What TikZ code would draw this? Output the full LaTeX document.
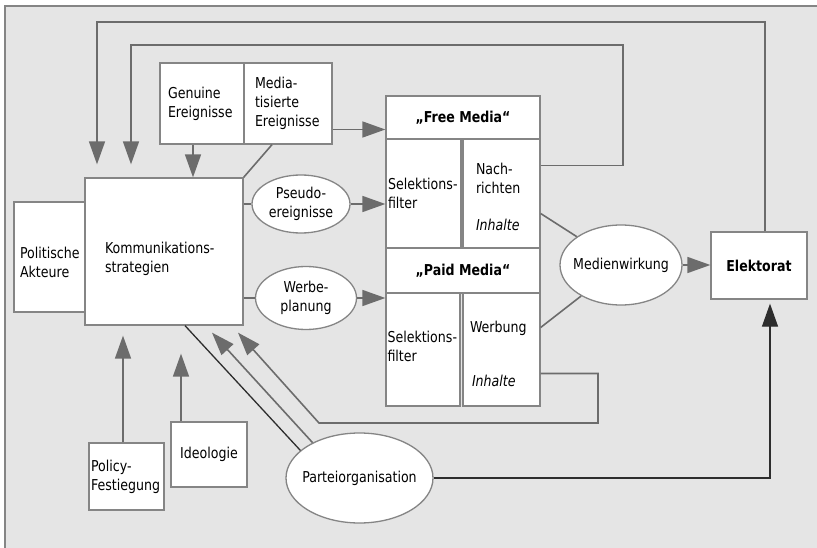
\documentclass[tikz,border=0pt]{standalone}
\usepackage{fontspec}
\setmainfont{DejaVu Sans}[FakeStretch=0.84]
\usepackage{tikz}
\usetikzlibrary{arrows.meta,shapes.geometric,positioning}
\definecolor{bggray}{RGB}{229,229,229}
\definecolor{boxgray}{RGB}{133,133,133}
\definecolor{linegray}{RGB}{108,108,108}
\definecolor{darkline}{RGB}{45,45,45}

\begin{document}
\begin{tikzpicture}[x=1pt,y=-1pt,
    box/.style={draw=boxgray, fill=white, line width=1.3pt, inner sep=0pt,
      font=\fontsize{15}{19}\selectfont},
    oval/.style={ellipse, draw=boxgray, fill=white, line width=1.3pt, inner sep=0pt,
      align=center, font=\fontsize{15}{19}\selectfont},
    ln/.style={draw=linegray, line width=1.6pt},
    arr/.style={ln, -{Triangle[length=23pt,width=16pt]}},
    dark/.style={draw=darkline, line width=1.3pt}
  ]
    % background
    \useasboundingbox (0,0) rectangle (817,548);
    \fill[white] (0,0) rectangle (817,548);
    \fill[bggray] (5,6) rectangle (817,548);
    \draw[boxgray, line width=1.3pt] (5,548) -- (5,6) -- (817,6);

    % actors and strategies
    \node[box, minimum width=72, minimum height=110, text width=60, align=left, text depth=8pt]
      (akteure) at (50,257) {Politische\\Akteure};
    \node[box, minimum width=158, minimum height=147, text width=118, align=left, text depth=7.5pt]
      (komm) at (164,251.5) {Kommunikations-\\strategien};

    % events
    \node[box, minimum width=84, minimum height=81, text width=68, align=left, text depth=21pt]
      (genuine) at (202,103.5) {Genuine\\Ereignisse};
    \node[box, minimum width=88, minimum height=81, text width=66, align=left]
      (media) at (288,103.5) {Media-\\tisierte\\Ereignisse};

    % media boxes
    \node[box, minimum width=154, minimum height=43, font=\fontsize{15}{19}\selectfont\bfseries]
      (free) at (463,117.5) {„Free Media“};
    \node[box, minimum width=75, minimum height=109, text width=71, align=left, text depth=19pt]
      (selfree) at (423.5,193.5) {Selektions-\\filter};
    \node[box, minimum width=77, minimum height=109, text width=51, align=left, text height=18pt]
      (nach) at (501.5,193.5) {Nach-\\richten\\[18pt]\textit{Inhalte}};
    \node[box, minimum width=154, minimum height=45, font=\fontsize{15}{19}\selectfont\bfseries]
      (paid) at (463,270.5) {„Paid Media“};
    \node[box, minimum width=74, minimum height=113, text width=71, align=left, text depth=25pt]
      (selpaid) at (423,349.5) {Selektions-\\filter};
    \node[box, minimum width=77, minimum height=113, text width=63, align=left, text height=21pt]
      (werb) at (501.5,349.5) {Werbung\\[35pt]\hspace*{2pt}\textit{Inhalte}};

    % ovals
    \node[oval, minimum width=98, minimum height=58] (pseudo) at (301,204) {Pseudo-\\ereignisse};
    \node[oval, minimum width=101, minimum height=63] (werbepl) at (306,298) {Werbe-\\planung};
    \node[oval, minimum width=122, minimum height=80, inner xsep=-6pt] (medien) at (621,265) {Medienwirkung};
    \node[oval, minimum width=147, minimum height=90, inner xsep=-7pt] (partei) at (359.5,478) {Parteiorganisation};

    \node[box, minimum width=96, minimum height=67, font=\fontsize{15}{19}\selectfont\bfseries]
      (elek) at (759,265.5) {Elektorat};

    % inputs from below
    \node[box, minimum width=75, minimum height=67, text width=71, align=left]
      (policy) at (126.5,476.5) {Policy-\\Festiegung};
    \node[box, minimum width=76, minimum height=65] (ideo) at (209,454.5) {Ideologie};

    % feedback corners
    \coordinate (fbA) at (97,22);
    \coordinate (fbB) at (131,45);
    \coordinate (fbC) at (623,45);
    \coordinate (fbD) at (598,423);
    \coordinate (fbE) at (319,423);

    % connectors
    \draw[arr] ([xshift=-9pt]genuine.south) -- ([xshift=-9pt]genuine.south |- komm.north);
    \draw[ln] ([xshift=-16pt]media.south) -- (komm.north east);
    \draw[arr] ([yshift=-26pt]media.east) -- ([yshift=-26pt]media.east -| free.west);

    \draw[ln] (pseudo.west -| komm.east) -- (pseudo.west);
    \draw[arr] (pseudo.east) -- (pseudo.east -| selfree.west);
    \draw[ln] (werbepl.west -| komm.east) -- (werbepl.west);
    \draw[arr] (werbepl.east) -- (werbepl.east -| selpaid.west);

    \draw[ln] ([yshift=-20pt]nach.east) -- (medien);
    \draw[ln] ([yshift=22pt]werb.east) -- (medien);
    \draw[arr] (medien.east) -- (medien.east -| elek.west);

    \draw[arr, shorten >=13pt] ([xshift=6pt]elek.north) |- (fbA) -- (fbA |- komm.north);
    \draw[arr, shorten >=13pt] ([yshift=28pt]nach.east) -| (fbC) -- (fbB) -- (fbB |- komm.north);

    \draw[arr, shorten >=10pt] ([xshift=-3.5pt]policy.north) -- ([xshift=-3.5pt]policy.north |- komm.south);
    \draw[arr, shorten >=28pt] ([xshift=-28pt]ideo.north) -- ([xshift=-28pt]ideo.north |- komm.south);

    \draw[dark] ([xshift=21pt]komm.south) -- (partei.155);
    \draw[arr] (partei.143) -- ([xshift=48pt,yshift=-7pt]komm.south);
    \draw[arr] ([yshift=-24pt]werb.east) -| (fbD) -- (fbE) -- ([xshift=74pt,yshift=-7pt]komm.south);
    \draw[dark, -{Triangle[length=23pt,width=16pt]}] (partei.east) -| ([xshift=11pt,yshift=-4pt]elek.south);
\end{tikzpicture}
\end{document}
